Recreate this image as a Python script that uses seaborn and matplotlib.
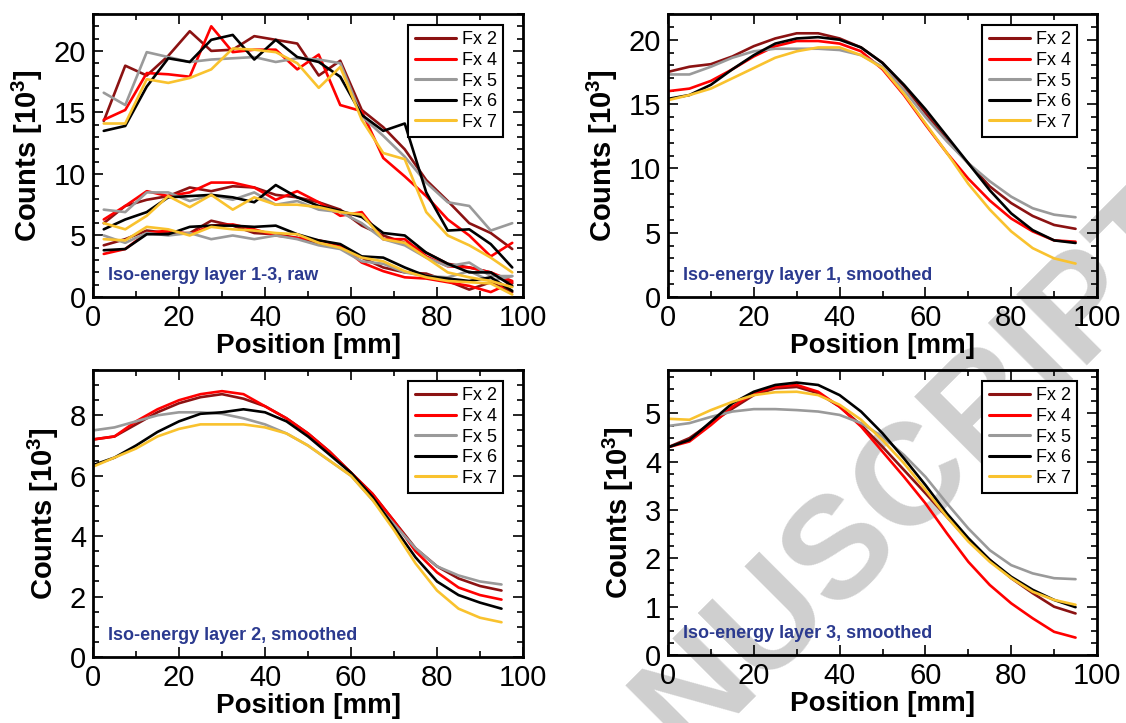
import matplotlib
matplotlib.use("Agg")
import matplotlib.pyplot as plt
from matplotlib.ticker import MultipleLocator
import numpy as np
import pandas as pd
import seaborn as sns

sns.set_theme(style="ticks")
plt.rcParams["font.family"] = ["Liberation Sans", "DejaVu Sans"]
plt.rcParams["mathtext.default"] = "regular"
for key in ["text.color", "axes.labelcolor", "xtick.color", "ytick.color"]:
    plt.rcParams[key] = "black"

series = ["Fx 2", "Fx 4", "Fx 5", "Fx 6", "Fx 7"]
colors = ["#8B1212", "#FF0000", "#9A9A9A", "#000000", "#F9C22E"]
navy = "#2B3A8F"

x_raw = [2.5, 7.5, 12.5, 17.5, 22.5, 27.5, 32.5, 37.5, 42.5, 47.5,
         52.5, 57.5, 62.5, 67.5, 72.5, 77.5, 82.5, 87.5, 92.5, 97.5]
x_smooth = [0, 5, 10, 15, 20, 25, 30, 35, 40, 45,
            50, 55, 60, 65, 70, 75, 80, 85, 90, 95]

# raw counts [10^3], iso-energy layers 1..3, rows in order Fx2, Fx4, Fx5, Fx6, Fx7
raw_layer1 = [
    [14.3, 18.8, 18.0, 19.6, 21.6, 20.0, 20.1, 21.2, 20.9, 20.6, 18.0, 19.2, 15.2, 13.8, 12.0, 9.5, 7.8, 6.0, 5.2, 3.9],
    [14.4, 15.2, 18.2, 18.1, 17.9, 22.0, 19.9, 20.1, 20.1, 18.5, 19.7, 15.6, 15.1, 11.3, 9.8, 8.2, 6.3, 5.0, 3.3, 4.4],
    [16.6, 15.6, 19.9, 19.5, 19.1, 19.3, 19.4, 19.5, 19.1, 19.4, 19.3, 19.0, 14.7, 13.1, 11.4, 9.3, 7.7, 7.4, 5.4, 6.0],
    [13.5, 13.9, 17.1, 19.4, 19.1, 20.9, 21.3, 19.3, 20.9, 19.5, 19.1, 17.9, 14.8, 13.5, 14.1, 8.5, 5.4, 5.5, 4.3, 2.4],
    [14.1, 14.1, 17.7, 17.4, 17.8, 18.5, 20.2, 20.1, 19.9, 19.0, 17.0, 18.7, 14.4, 11.7, 11.2, 6.9, 5.0, 4.2, 3.2, 2.0],
]
raw_layer2 = [
    [6.0, 7.4, 7.9, 8.2, 8.9, 8.6, 9.0, 8.9, 8.3, 8.1, 7.7, 7.1, 5.8, 5.0, 4.4, 3.6, 2.7, 2.4, 2.0, 1.1],
    [6.3, 7.4, 8.6, 8.2, 8.5, 9.3, 9.3, 8.9, 7.9, 8.6, 7.7, 6.6, 6.9, 4.7, 4.7, 3.3, 2.5, 2.4, 2.0, 1.3],
    [7.1, 6.9, 8.5, 8.5, 7.8, 8.3, 7.9, 8.5, 7.5, 7.8, 7.1, 6.9, 6.0, 4.7, 4.2, 3.2, 2.5, 2.8, 1.7, 1.7],
    [5.5, 6.3, 6.9, 8.1, 8.2, 8.3, 8.1, 7.7, 9.1, 8.1, 7.4, 7.0, 6.5, 5.2, 5.0, 3.6, 2.7, 2.0, 2.0, 0.9],
    [6.0, 5.5, 6.6, 8.2, 7.3, 8.3, 7.1, 8.1, 7.5, 7.5, 7.3, 6.9, 6.7, 4.7, 4.4, 3.2, 2.0, 1.6, 1.3, 0.8],
]
raw_layer3 = [
    [4.2, 4.7, 5.4, 5.2, 5.2, 6.2, 5.8, 5.2, 5.1, 4.8, 4.3, 4.0, 3.2, 2.4, 2.0, 1.9, 1.3, 0.6, 1.2, 0.4],
    [3.5, 3.9, 5.2, 5.4, 5.1, 5.8, 5.9, 5.5, 5.0, 4.8, 4.6, 4.2, 2.8, 2.1, 1.6, 1.5, 1.2, 0.9, 0.4, 1.2],
    [5.0, 4.4, 5.2, 5.0, 5.2, 4.7, 5.0, 4.7, 5.0, 4.7, 4.2, 3.9, 2.9, 2.7, 2.0, 1.7, 1.6, 2.1, 1.3, 1.7],
    [3.8, 3.9, 5.1, 5.1, 5.7, 5.8, 5.8, 5.7, 5.8, 5.1, 4.6, 4.3, 3.3, 3.2, 2.4, 1.7, 1.5, 1.3, 1.6, 0.5],
    [4.7, 4.6, 5.7, 5.5, 5.0, 5.7, 5.5, 5.4, 5.2, 5.1, 4.4, 4.0, 3.2, 2.9, 2.1, 1.6, 1.3, 1.2, 1.1, 0.2],
]

# smoothed counts [10^3]
smooth_layer1 = [
    [17.5, 17.9, 18.1, 18.7, 19.5, 20.1, 20.5, 20.5, 20.1, 19.4, 18.2, 16.4, 14.3, 12.2, 10.4, 8.6, 7.3, 6.3, 5.6, 5.3],
    [16.0, 16.2, 16.8, 17.7, 18.7, 19.5, 19.9, 19.9, 19.7, 19.1, 17.7, 15.7, 13.4, 11.2, 9.2, 7.5, 6.1, 5.1, 4.4, 4.3],
    [17.3, 17.3, 17.9, 18.6, 19.1, 19.3, 19.3, 19.3, 19.2, 18.8, 17.9, 16.1, 14.0, 12.1, 10.4, 9.0, 7.8, 6.9, 6.4, 6.2],
    [15.4, 15.7, 16.5, 17.7, 18.8, 19.7, 20.1, 20.2, 20.0, 19.4, 18.2, 16.5, 14.6, 12.5, 10.4, 8.3, 6.5, 5.2, 4.4, 4.2],
    [15.3, 15.7, 16.2, 17.0, 17.8, 18.6, 19.1, 19.4, 19.4, 18.8, 17.8, 15.8, 13.5, 11.2, 8.8, 6.8, 5.1, 3.8, 3.0, 2.6],
]
smooth_layer2 = [
    [7.2, 7.3, 7.7, 8.1, 8.4, 8.6, 8.7, 8.55, 8.3, 7.9, 7.4, 6.8, 6.1, 5.4, 4.5, 3.6, 3.0, 2.6, 2.35, 2.2],
    [7.2, 7.3, 7.8, 8.2, 8.5, 8.7, 8.8, 8.7, 8.3, 7.9, 7.4, 6.8, 6.1, 5.4, 4.5, 3.5, 2.8, 2.3, 2.05, 1.9],
    [7.5, 7.6, 7.8, 8.0, 8.1, 8.1, 8.05, 7.9, 7.7, 7.4, 7.0, 6.5, 6.0, 5.2, 4.4, 3.6, 3.0, 2.7, 2.5, 2.4],
    [6.35, 6.6, 7.0, 7.45, 7.8, 8.05, 8.1, 8.2, 8.1, 7.8, 7.3, 6.7, 6.1, 5.3, 4.3, 3.3, 2.5, 2.05, 1.8, 1.6],
    [6.3, 6.6, 6.9, 7.3, 7.55, 7.7, 7.7, 7.7, 7.6, 7.4, 7.0, 6.5, 6.0, 5.2, 4.2, 3.1, 2.2, 1.6, 1.3, 1.15],
]
smooth_layer3 = [
    [4.3, 4.49, 4.8, 5.1, 5.38, 5.52, 5.55, 5.42, 5.14, 4.76, 4.31, 3.83, 3.35, 2.86, 2.38, 1.97, 1.59, 1.28, 1.0, 0.86],
    [4.3, 4.42, 4.76, 5.14, 5.42, 5.55, 5.59, 5.45, 5.14, 4.73, 4.21, 3.69, 3.14, 2.52, 1.93, 1.45, 1.07, 0.76, 0.48, 0.36],
    [4.74, 4.8, 4.93, 5.04, 5.09, 5.09, 5.07, 5.04, 4.97, 4.8, 4.52, 4.14, 3.69, 3.14, 2.62, 2.17, 1.86, 1.69, 1.59, 1.57],
    [4.3, 4.45, 4.83, 5.21, 5.45, 5.59, 5.64, 5.59, 5.38, 5.04, 4.59, 4.07, 3.52, 2.93, 2.42, 1.97, 1.62, 1.35, 1.14, 0.99],
    [4.89, 4.87, 5.07, 5.24, 5.38, 5.44, 5.45, 5.38, 5.18, 4.87, 4.45, 3.97, 3.42, 2.86, 2.35, 1.93, 1.59, 1.31, 1.14, 1.04],
]


def long_table(x, layers):
    rows = []
    for li, layer in enumerate(layers):
        for name, vals in zip(series, layer):
            for xi, yi in zip(x, vals):
                rows.append({"x": xi, "y": yi, "series": name, "layer": li})
    return pd.DataFrame(rows)


panels = [
    (long_table(x_raw, [raw_layer1, raw_layer2, raw_layer3]), 23, 5, 1, "Iso-energy layer 1-3, raw"),
    (long_table(x_smooth, [smooth_layer1]), 22, 5, 1, "Iso-energy layer 1, smoothed"),
    (long_table(x_smooth, [smooth_layer2]), 9.5, 2, 0.5, "Iso-energy layer 2, smoothed"),
    (long_table(x_smooth, [smooth_layer3]), 5.9, 1, 0.25, "Iso-energy layer 3, smoothed"),
]

W, H = 1126, 723
boxes = [(93, 14, 523, 297), (668, 14, 1097, 297), (93, 370, 523, 657), (668, 370, 1097, 655)]

fig = plt.figure(figsize=(W / 100, H / 100), dpi=100)
fig.patch.set_facecolor("white")

for (df, ymax, major, minor, note), (x0, y0, x1, y1) in zip(panels, boxes):
    ax = fig.add_axes([x0 / W, 1 - y1 / H, (x1 - x0) / W, (y1 - y0) / H])
    ax.set_facecolor("none")
    sns.lineplot(data=df, x="x", y="y", hue="series", units="layer", estimator=None,
                 hue_order=series, palette=colors, lw=1.9, ax=ax, legend=False)
    ax.set_xlim(0, 100)
    ax.set_ylim(0, ymax)
    ax.xaxis.set_major_locator(MultipleLocator(20))
    ax.xaxis.set_minor_locator(MultipleLocator(10))
    ax.yaxis.set_major_locator(MultipleLocator(major))
    ax.yaxis.set_minor_locator(MultipleLocator(minor))
    ax.tick_params(which="both", direction="in", top=True, right=True, width=1.2, color="black")
    ax.tick_params(which="major", length=7, labelsize=21, pad=5, labelcolor="black")
    ax.tick_params(which="minor", length=4)
    for sp in ax.spines.values():
        sp.set_linewidth(2)
        sp.set_color("black")
    ax.set_xlabel("Position [mm]", fontsize=20, weight="bold", labelpad=1)
    ax.set_ylabel("Counts [10$^3$]", fontsize=21, weight="bold", labelpad=6)
    handles = [plt.Line2D([], [], color=c, lw=2.2) for c in colors]
    leg = ax.legend(handles, series, loc="upper right",
                    bbox_to_anchor=(1 - 20 / (x1 - x0), 1 - 11 / (y1 - y0)),
                    fontsize=13, frameon=True, fancybox=False, framealpha=1,
                    edgecolor="black", handlelength=2.3, handletextpad=0.3,
                    labelspacing=0.2, borderpad=0.35, borderaxespad=0)
    leg.get_frame().set_linewidth(1.5)
    ax.text(15 / (x1 - x0), 21 / (y1 - y0), note, transform=ax.transAxes,
            color=navy, fontsize=13, weight="bold", va="center", ha="left")

# journal watermark, only the visible part of the word falls inside the figure
fig.text(921 / W, 1 - 469 / H, "NUSCRIPT", rotation=45,
         fontsize=104, weight="bold", color="#CFCFCF", ha="center", va="center", zorder=-1)

fig.savefig("out.png", dpi=100)
